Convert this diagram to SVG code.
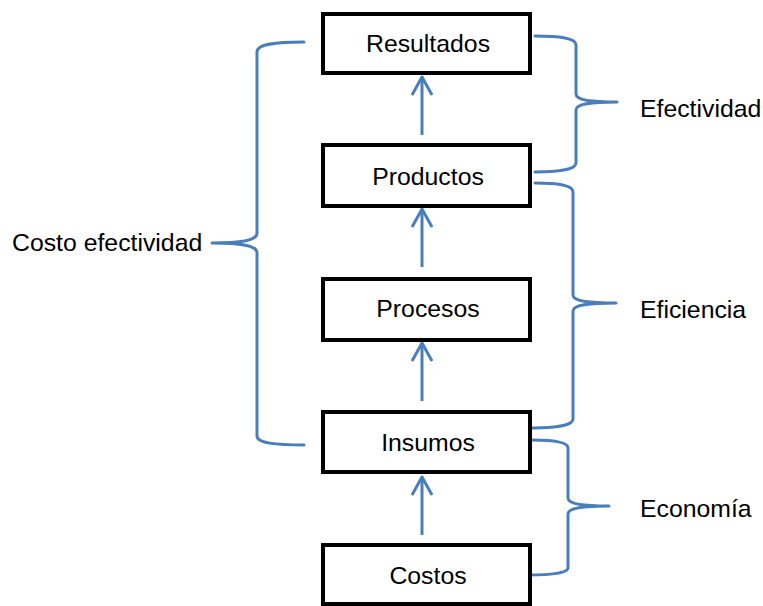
<svg xmlns="http://www.w3.org/2000/svg" width="763" height="606" viewBox="0 0 763 606">
<style>
.box{fill:#fff;stroke:#000;stroke-width:4}
.lbl{font-family:"Liberation Sans",Arial,sans-serif;font-size:24.8px;fill:#000}
.c{text-anchor:middle}
.br{fill:none;stroke:#4A7EBB;stroke-width:3;stroke-linecap:round;stroke-linejoin:round}
.ar{fill:none;stroke:#4A7EBB;stroke-width:3;marker-end:url(#ah)}
</style>
<defs>
<marker id="ah" viewBox="0 0 22 22" refX="19" refY="11" markerWidth="22" markerHeight="22" markerUnits="userSpaceOnUse" orient="auto">
<path d="M1 1 L19 11 L1 21" fill="none" stroke="#4A7EBB" stroke-width="3" stroke-linejoin="round"/>
</marker>
</defs>
<rect width="763" height="606" fill="#fff"/>
<g id="connectors">
<line class="ar" x1="422" y1="135" x2="422" y2="77"/>
<line class="ar" x1="422" y1="267" x2="422" y2="209"/>
<line class="ar" x1="422" y1="401" x2="422" y2="343"/>
<line class="ar" x1="422" y1="535" x2="422" y2="477"/>
<path class="br" d="M304 42 C275 42 257 44 257 52 L257 233 C257 240 245 243 212 243 C245 243 257 246 257 253 L257 436 C257 443 275 445 304 445"/>
<path class="br" d="M535 36 C560 36 576 38 576 45 L576 94 C576 100 590 102 617 102 C590 102 576 104 576 110 L576 163 C576 169 560 172 535 172"/>
<path class="br" d="M535 183 C558 183 573 185 573 192 L573 295 C573 301 588 303 616 303 C588 303 573 305 573 311 L573 419 C573 425 556 428 533 428"/>
<path class="br" d="M533 440 C553 440 568 442 568 448 L568 498 C568 504 584 506 609 506 C584 506 568 508 568 514 L568 568 C568 573 551 575 527 575"/>
</g>
<g id="resultados"><rect class="box" x="323" y="14" width="207" height="59"/><text class="lbl c" x="428" y="52">Resultados</text></g>
<g id="productos"><rect class="box" x="323" y="145" width="207" height="61"/><text class="lbl c" x="428" y="185">Productos</text></g>
<g id="procesos"><rect class="box" x="323" y="279" width="207" height="61"/><text class="lbl c" x="428" y="317">Procesos</text></g>
<g id="insumos"><rect class="box" x="323" y="412" width="207" height="60"/><text class="lbl c" x="428" y="451">Insumos</text></g>
<g id="costos"><rect class="box" x="323" y="545" width="207" height="59"/><text class="lbl c" x="428" y="584">Costos</text></g>
<g id="label-costo-efectividad"><text class="lbl" x="12" y="251">Costo efectividad</text></g>
<g id="label-efectividad"><text class="lbl" x="640" y="117">Efectividad</text></g>
<g id="label-eficiencia"><text class="lbl" x="640" y="318">Eficiencia</text></g>
<g id="label-economia"><text class="lbl" x="640" y="517">Economía</text></g>
</svg>
